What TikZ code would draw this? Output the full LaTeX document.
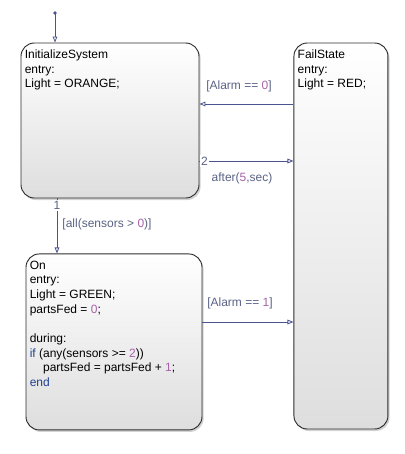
\documentclass[tikz,border=0pt]{standalone}
\usepackage{fontspec}
\setmainfont{Liberation Sans}
\usetikzlibrary{arrows.meta,positioning,shadows}
\definecolor{sfline}{HTML}{4C5490}
\definecolor{sflabel}{HTML}{5A6285}
\definecolor{sfnum}{HTML}{A862A8}
\definecolor{sfkey}{HTML}{1F3F8F}
\definecolor{sfedge}{HTML}{2E2E2E}
\newcommand{\num}[1]{\textcolor{sfnum}{#1}}
\newcommand{\kw}[1]{\textcolor{sfkey}{#1}}
\tikzset{
  sbox/.style={rounded corners=10pt, draw=sfedge, line width=0.7pt,
               top color=white, bottom color=black!13,
               drop shadow={shadow xshift=1.2pt, shadow yshift=-1.5pt, opacity=.35}},
  stxt/.style={anchor=north west, align=left, inner sep=0pt,
               font=\fontsize{9pt}{11pt}\selectfont},
  trans/.style={-{Triangle[open, length=4.5pt, width=3.5pt]}, draw=sfline, line width=0.6pt},
  glab/.style={text=sflabel, inner sep=1pt, font=\fontsize{9pt}{11pt}\selectfont},
  ord/.style={glab, fill=white},
}
\begin{document}
\begin{tikzpicture}[x=0.75pt, y=-0.75pt]
    \useasboundingbox (0,0) rectangle (404,454);
    % states
    \node[sbox, minimum width=133.5pt, minimum height=116.25pt] (init) at (110,120.5) {};
    \node[sbox, minimum width=132pt, minimum height=132pt, below=41.25pt of init, xshift=3pt] (on) {};
    \node[sbox, minimum width=70.5pt, minimum height=289.5pt, right=70.5pt of init.north east, anchor=north west] (fail) {};
    \node[stxt] (initTxt) at ([xshift=3pt, yshift=-5.2pt]init.north west)
      {InitializeSystem\\entry:\\Light = ORANGE;};
    \node[stxt] (onTxt) at ([xshift=3pt, yshift=-5.2pt]on.north west)
      {On\\entry:\\Light = GREEN;\\partsFed = \num{0};\\[11pt]during:\\
       \kw{if} (any(sensors >= \num{2}))\\\hspace*{10pt}partsFed = partsFed + \num{1};\\\kw{end}};
    \node[stxt] (failTxt) at ([xshift=3pt, yshift=-5.2pt]fail.north west)
      {FailState\\entry:\\Light = RED;};
    % default transition
    \coordinate (dflt) at (55,13);
    \fill[sfline] (dflt) circle (1.4pt);
    \draw[trans] (dflt) -- (dflt |- init.north);
    % transitions
    \draw[trans] (fail.west |- 0,104) -- (init.east |- 0,104);
    \draw[trans] (init.east |- 0,161) -- (fail.west |- 0,161);
    \draw[trans] (init.south -| 57,0) -- (on.north -| 57,0);
    \draw[trans] (on.east |- 0,322) -- (fail.west |- 0,322);
    \node[ord, anchor=west] (n2) at (init.east |- 0,161) {2};
    \node[ord, anchor=north] (n1) at ([yshift=-0.8pt]init.south -| 57,0) {1};
    % labels
    \node[glab] (g0) at (239,86) {[Alarm == \num{0}]};
    \node[glab] (gt) at (242,178) {after(\num{5},sec)};
    \node[glab] (gs) at (107,224) {[all(sensors > \num{0})]};
    \node[glab] (g1) at (240,303) {[Alarm == \num{1}]};
  \end{tikzpicture}
\end{document}
